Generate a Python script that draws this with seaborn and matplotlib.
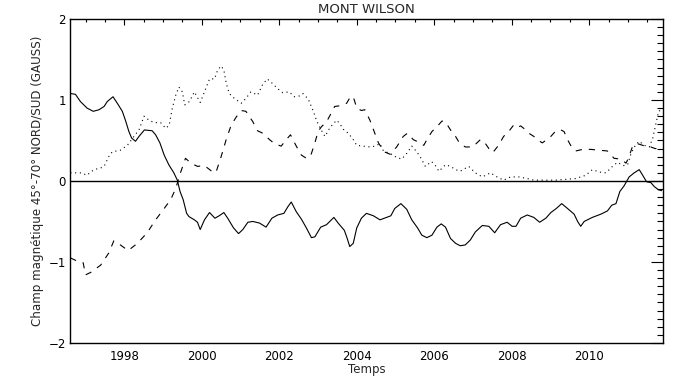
import numpy as np
import pandas as pd
import matplotlib
matplotlib.use('Agg')
import matplotlib.pyplot as plt
import seaborn as sns
from matplotlib.ticker import MultipleLocator

# solid curve
years_solid = [1996.61, 1996.74, 1996.87, 1997.04, 1997.20, 1997.35, 1997.48, 1997.56, 1997.71, 1997.82,
               1997.95, 1998.03, 1998.12, 1998.19, 1998.29, 1998.38, 1998.52, 1998.72, 1998.81, 1998.92,
               1999.03, 1999.15, 1999.28, 1999.37, 1999.44, 1999.52, 1999.61, 1999.67, 1999.81, 1999.89,
               1999.96, 2000.07, 2000.20, 2000.34, 2000.45, 2000.57, 2000.67, 2000.82, 2000.95, 2001.06,
               2001.19, 2001.32, 2001.49, 2001.66, 2001.81, 2001.96, 2002.12, 2002.22, 2002.31, 2002.44,
               2002.57, 2002.70, 2002.83, 2002.92, 2003.07, 2003.22, 2003.41, 2003.52, 2003.68, 2003.74,
               2003.82, 2003.91, 2004.00, 2004.12, 2004.25, 2004.43, 2004.60, 2004.77, 2004.88, 2004.98,
               2005.14, 2005.29, 2005.42, 2005.57, 2005.68, 2005.81, 2005.94, 2006.07, 2006.18, 2006.29,
               2006.42, 2006.55, 2006.67, 2006.80, 2006.93, 2007.06, 2007.24, 2007.41, 2007.56, 2007.71,
               2007.88, 2008.01, 2008.11, 2008.23, 2008.40, 2008.57, 2008.72, 2008.88, 2009.01, 2009.15,
               2009.29, 2009.44, 2009.61, 2009.70, 2009.78, 2009.87, 2010.08, 2010.30, 2010.47, 2010.58,
               2010.69, 2010.79, 2010.90, 2011.03, 2011.16, 2011.29, 2011.38, 2011.48, 2011.59, 2011.68,
               2011.79, 2011.87]
solid = [1.08, 1.07, 0.98, 0.90, 0.86, 0.88, 0.92, 0.98, 1.04, 0.96,
         0.86, 0.75, 0.61, 0.53, 0.49, 0.55, 0.63, 0.62, 0.57, 0.47,
         0.32, 0.20, 0.10, 0.01, -0.13, -0.23, -0.40, -0.44, -0.48, -0.51,
         -0.60, -0.48, -0.39, -0.46, -0.43, -0.39, -0.46, -0.58, -0.65, -0.60,
         -0.51, -0.50, -0.52, -0.57, -0.46, -0.42, -0.40, -0.32, -0.26, -0.38,
         -0.47, -0.58, -0.70, -0.69, -0.57, -0.54, -0.45, -0.52, -0.61, -0.69,
         -0.81, -0.77, -0.58, -0.46, -0.40, -0.43, -0.48, -0.45, -0.43, -0.34,
         -0.28, -0.35, -0.48, -0.58, -0.67, -0.70, -0.67, -0.57, -0.53, -0.57,
         -0.71, -0.77, -0.80, -0.79, -0.73, -0.63, -0.55, -0.56, -0.64, -0.54,
         -0.51, -0.56, -0.56, -0.46, -0.42, -0.45, -0.51, -0.46, -0.39, -0.34,
         -0.28, -0.34, -0.41, -0.50, -0.56, -0.50, -0.45, -0.41, -0.37, -0.30,
         -0.28, -0.13, -0.06, 0.05, 0.10, 0.14, 0.07, -0.01, -0.02, -0.07,
         -0.11, -0.12]

# dashed curve
years_dashed = [1996.61, 1996.83, 1996.94, 1997.00, 1997.13, 1997.39, 1997.60, 1997.73, 1997.90, 1998.10,
                1998.34, 1998.59, 1998.81, 1999.03, 1999.20, 1999.33, 1999.45, 1999.58, 1999.72, 1999.89,
                2000.07, 2000.15, 2000.31, 2000.37, 2000.50, 2000.63, 2000.76, 2000.89, 2001.02, 2001.14,
                2001.32, 2001.44, 2001.57, 2001.75, 2001.88, 2002.05, 2002.18, 2002.29, 2002.44, 2002.57,
                2002.70, 2002.81, 2002.92, 2003.00, 2003.09, 2003.22, 2003.31, 2003.43, 2003.59, 2003.74,
                2003.85, 2003.93, 2004.00, 2004.12, 2004.21, 2004.34, 2004.45, 2004.56, 2004.71, 2004.86,
                2005.03, 2005.20, 2005.31, 2005.46, 2005.55, 2005.73, 2005.81, 2005.94, 2006.07, 2006.20,
                2006.29, 2006.42, 2006.55, 2006.65, 2006.80, 2006.99, 2007.19, 2007.28, 2007.41, 2007.51,
                2007.66, 2007.79, 2007.92, 2008.05, 2008.14, 2008.23, 2008.31, 2008.44, 2008.57, 2008.66,
                2008.79, 2009.01, 2009.14, 2009.27, 2009.35, 2009.44, 2009.52, 2009.65, 2009.83, 2010.04,
                2010.26, 2010.47, 2010.64, 2010.81, 2010.95, 2011.01, 2011.12, 2011.25, 2011.38, 2011.51,
                2011.59, 2011.70, 2011.87]
dashed = [-0.95, -1.00, -1.01, -1.16, -1.13, -1.04, -0.89, -0.74, -0.79, -0.86,
          -0.77, -0.64, -0.48, -0.34, -0.23, -0.09, 0.10, 0.28, 0.22, 0.18,
          0.19, 0.16, 0.10, 0.11, 0.30, 0.51, 0.69, 0.79, 0.87, 0.86,
          0.73, 0.62, 0.59, 0.51, 0.46, 0.43, 0.51, 0.57, 0.43, 0.32,
          0.28, 0.31, 0.47, 0.61, 0.67, 0.73, 0.81, 0.92, 0.93, 0.96,
          1.05, 1.01, 0.90, 0.87, 0.88, 0.75, 0.61, 0.47, 0.36, 0.33,
          0.42, 0.55, 0.59, 0.51, 0.49, 0.44, 0.51, 0.61, 0.67, 0.74,
          0.73, 0.63, 0.55, 0.47, 0.42, 0.42, 0.51, 0.49, 0.40, 0.35,
          0.44, 0.55, 0.61, 0.69, 0.66, 0.68, 0.65, 0.59, 0.55, 0.51,
          0.47, 0.55, 0.62, 0.63, 0.61, 0.51, 0.44, 0.37, 0.39, 0.39,
          0.38, 0.37, 0.28, 0.27, 0.22, 0.28, 0.43, 0.46, 0.44, 0.42,
          0.42, 0.40, 0.40]

# dotted curve
years_dotted = [1996.61, 1996.79, 1996.91, 1997.03, 1997.22, 1997.39, 1997.48, 1997.60, 1997.69, 1997.90,
                1998.08, 1998.25, 1998.38, 1998.51, 1998.64, 1998.77, 1998.94, 1999.07, 1999.16, 1999.24,
                1999.33, 1999.41, 1999.50, 1999.56, 1999.68, 1999.81, 1999.96, 2000.07, 2000.20, 2000.33,
                2000.41, 2000.50, 2000.57, 2000.63, 2000.71, 2000.84, 2001.02, 2001.14, 2001.27, 2001.44,
                2001.57, 2001.69, 2001.81, 2001.96, 2002.09, 2002.26, 2002.39, 2002.52, 2002.61, 2002.75,
                2002.88, 2002.96, 2003.07, 2003.18, 2003.31, 2003.48, 2003.56, 2003.65, 2003.78, 2003.91,
                2004.00, 2004.17, 2004.34, 2004.47, 2004.60, 2004.69, 2004.86, 2005.03, 2005.16, 2005.29,
                2005.42, 2005.55, 2005.66, 2005.77, 2005.93, 2006.03, 2006.12, 2006.29, 2006.42, 2006.55,
                2006.67, 2006.89, 2007.06, 2007.24, 2007.45, 2007.62, 2007.79, 2007.97, 2008.18, 2008.40,
                2008.57, 2008.88, 2009.14, 2009.40, 2009.65, 2009.91, 2010.08, 2010.26, 2010.43, 2010.60,
                2010.73, 2010.88, 2010.99, 2011.08, 2011.19, 2011.29, 2011.42, 2011.55, 2011.64, 2011.70,
                2011.79, 2011.87]
dotted = [0.10, 0.10, 0.10, 0.07, 0.14, 0.16, 0.18, 0.30, 0.36, 0.38,
          0.44, 0.55, 0.63, 0.80, 0.75, 0.72, 0.72, 0.65, 0.69, 0.90,
          1.06, 1.16, 1.10, 0.94, 0.98, 1.10, 0.97, 1.10, 1.26, 1.26,
          1.37, 1.42, 1.37, 1.21, 1.08, 1.02, 0.96, 1.02, 1.10, 1.06,
          1.19, 1.26, 1.21, 1.14, 1.09, 1.10, 1.04, 1.05, 1.08, 1.01,
          0.86, 0.75, 0.64, 0.55, 0.66, 0.75, 0.71, 0.64, 0.59, 0.51,
          0.44, 0.43, 0.42, 0.43, 0.46, 0.37, 0.34, 0.29, 0.27, 0.34,
          0.43, 0.36, 0.28, 0.18, 0.24, 0.19, 0.12, 0.20, 0.18, 0.14,
          0.12, 0.18, 0.10, 0.05, 0.10, 0.05, 0.01, 0.05, 0.05, 0.03,
          0.01, 0.01, 0.01, 0.02, 0.03, 0.07, 0.14, 0.11, 0.10, 0.18,
          0.23, 0.19, 0.20, 0.34, 0.44, 0.49, 0.44, 0.42, 0.53, 0.66,
          0.86, 0.88]

sns.set_style('white')
plt.rcParams['font.family'] = ['DejaVu Sans']
plt.rcParams['lines.scale_dashes'] = False

fig = plt.figure(figsize=(6.83, 3.84), dpi=100)
ax = fig.add_axes([0.1025, 0.107, 0.868, 0.8435])

sns.lineplot(x=years_solid, y=solid, ax=ax, color='black', lw=0.8, sort=False)
sns.lineplot(x=years_dashed, y=dashed, ax=ax, color='black', lw=0.8, sort=False,
             linestyle=(0, (4.5, 5)))
sns.lineplot(x=years_dotted, y=dotted, ax=ax, color='black', lw=0.8, sort=False,
             linestyle=(0, (0.8, 2.6)))
ax.axhline(0, color='black', lw=1.0)

ax.set_xlim(1996.6, 2011.9)
ax.set_ylim(-2, 2)
ax.xaxis.set_major_locator(MultipleLocator(2))
ax.xaxis.set_minor_locator(MultipleLocator(0.5))
ax.yaxis.set_major_locator(MultipleLocator(1))
ax.yaxis.set_minor_locator(MultipleLocator(0.1))

ax.tick_params(axis='both', which='both', direction='in', top=True, right=True,
               colors='black', labelsize=8.5)
ax.tick_params(axis='x', which='major', length=4.3, width=0.8, pad=5)
ax.tick_params(axis='x', which='minor', length=2.3, width=0.8)
ax.tick_params(axis='y', which='major', length=8.6, width=0.8, pad=3)
ax.tick_params(axis='y', which='minor', length=4.5, width=0.8)
for s in ax.spines.values():
    s.set_color('black')
    s.set_linewidth(1.0)

ax.set_title('MONT WILSON', fontsize=9.5, pad=4)
ax.set_xlabel('Temps', fontsize=8.5, labelpad=0)
ax.set_ylabel('Champ magnétique 45°-70° NORD/SUD (GAUSS)', fontsize=8.6, labelpad=3)

fig.savefig('out.png', dpi=100)
